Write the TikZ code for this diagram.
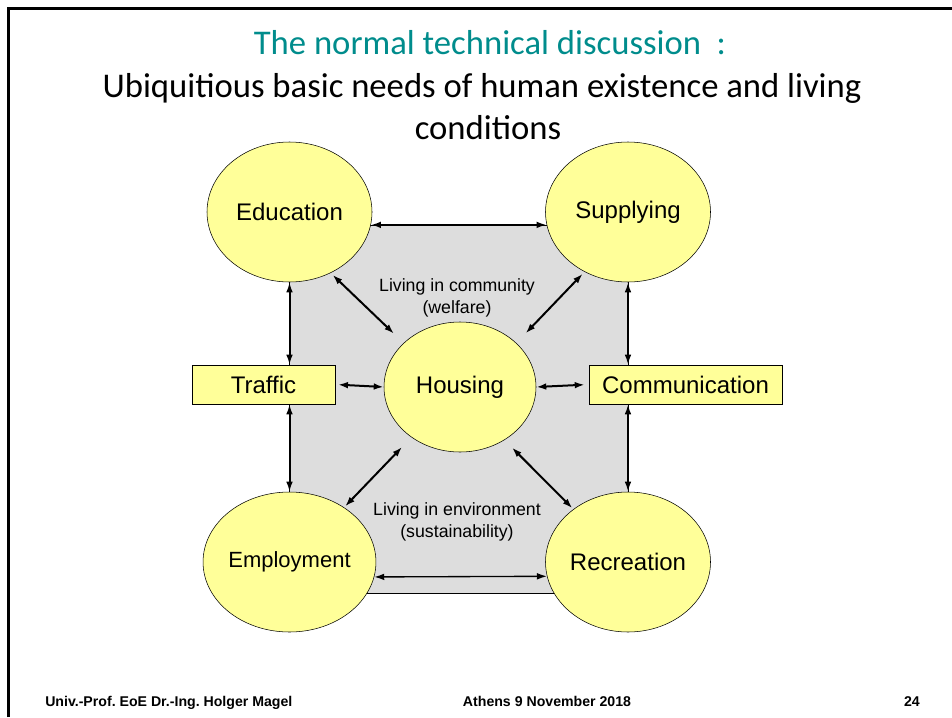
\documentclass[tikz,border=0pt]{standalone}
\usepackage{fontspec}
\setmainfont{Liberation Sans}
\newfontfamily\calibri{Carlito}
\usepackage{xcolor}
\definecolor{needyellow}{RGB}{255,255,153}
\definecolor{areagray}{RGB}{221,221,221}
\definecolor{titleteal}{RGB}{0,140,140}
\usetikzlibrary{shapes.geometric, arrows.meta}
\frenchspacing

\begin{document}
\begin{tikzpicture}
[x=0.75pt, y=-0.75pt,
 <->,
 >={Latex[length=7.5pt, width=5pt]},
 need/.style={ellipse, draw, thin, fill=needyellow, inner sep=0pt,
   minimum width=123.75pt, minimum height=105pt,
   font=\fontsize{18}{21}\selectfont},
 link/.style={rectangle, draw, thin, fill=needyellow, inner sep=0pt,
   minimum height=29.25pt, font=\fontsize{18}{21}\selectfont},
 con/.style={line width=1.5pt},
 note/.style={align=center, font=\fontsize{13.3}{16.5}\selectfont},
 head/.style={font=\calibri\fontsize{26}{31.5}\selectfont, anchor=base},
 foot/.style={font=\fontsize{10.6}{13}\selectfont\bfseries, anchor=base, inner sep=0pt},
]
\useasboundingbox (0,0) rectangle (952,717);

% slide frame
\draw[-, line width=2.25pt] (8,717) -- (8,9) -- (952,9);

% title
\node[head, text=titleteal] (title) at (490,55) {The normal technical discussion\ \ :};
\node[head] (sub) at (482,97) {Ubiquitious basic needs of human existence and living};
\node[head] (sub2) at (488,139) {conditions};

% the shared area
\draw[-, thin, fill=areagray] (289.5,225) rectangle (628,593);

\node[need] (edu)   at (289.5,212) {Education};
\node[need] (sup)   at (628,212) {Supplying};
\node[need, minimum width=114pt, minimum height=97.5pt] (house) at (460,387) {Housing};
\node[need, font=\fontsize{16.5}{20}\selectfont] (emp) at (289.5,562) {Employment};
\node[need] (rec) at (628,562) {Recreation};
\node[link, minimum width=107.25pt] (traffic) at (263.5,384.5) {Traffic};
\node[link, minimum width=144.75pt] (comm)    at (685.5,384.5) {Communication};

\node[note] (community)   at (457,298) {Living in community\\(welfare)};
\node[note] (environment) at (457,522) {Living in environment\\(sustainability)};

\path[con]
(edu.-9)   edge (sup.189)
(edu.south) edge (edu.south |- traffic.north)
(emp.north |- traffic.south) edge (emp.north)
(sup.south) edge (sup.south |- comm.north)
(rec.north |- comm.south) edge (rec.north)
(traffic.east) edge[shorten <=2pt] (house.west)
(house.east) edge[shorten >=3pt] (comm.west)

(edu.-56)  edge[shorten <=2pt, shorten >=10pt] (house.142)
(sup.234)  edge[shorten <=2pt, shorten >=10pt] (house.38)
(emp.45)   edge[shorten <=1pt, shorten >=10pt] (house.226)
(rec.136)  edge[shorten <=1pt, shorten >=8pt] (house.310);

\draw[line width=1pt] (emp.-10) -- (rec.190);

% footer
\node[foot, anchor=base west] (author) at (45,706) {Univ.-Prof. EoE Dr.-Ing. Holger Magel};
\node[foot] (place) at (547,706) {Athens 9 November 2018};
\node[foot, anchor=base east] (page) at (920,706) {24};
\end{tikzpicture}
\end{document}
